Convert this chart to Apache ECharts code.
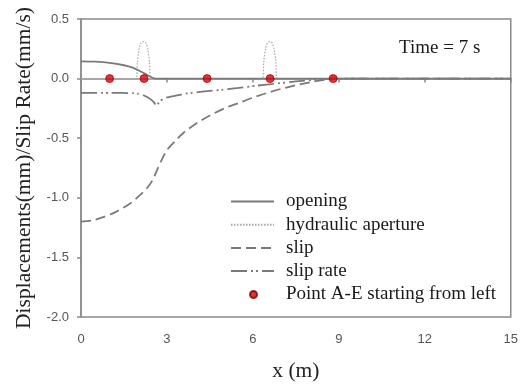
<!DOCTYPE html>
<html>
<head>
<meta charset="utf-8">
<script src="https://cdn.jsdelivr.net/npm/echarts@6/dist/echarts.min.js"></script>
<style>html,body{margin:0;padding:0;background:#fff}#c{width:521px;height:387px}</style>
</head>
<body>
<div id="c"></div>
<script>
// x ticks / y ticks
const xTicks = [0, 3, 6, 9, 12, 15];
const yTicks = [-2.0, -1.5, -1.0, -0.5, 0.0, 0.5];

// opening (solid)
const openingX = [0, 0.5, 1.0, 1.5, 1.8, 2.1, 2.3, 2.45, 2.6, 15];
const openingY = [0.145, 0.142, 0.132, 0.112, 0.092, 0.058, 0.032, 0.013, 0.0, 0.0];

// hydraulic aperture (dotted)
const apertureX = [0, 1.92, 1.97, 2.03, 2.1, 2.18, 2.26, 2.33, 2.39, 2.44, 6.33, 6.38, 6.44, 6.51, 6.59, 6.67, 6.74, 6.8, 6.85, 15];
const apertureY = [0, 0, 0.14, 0.25, 0.3, 0.31, 0.3, 0.25, 0.14, 0, 0, 0.14, 0.25, 0.3, 0.31, 0.3, 0.25, 0.14, 0, 0];

// slip (dashed)
const slipX = [0, 0.4, 0.8, 1.2, 1.7, 2.0, 2.3, 2.5, 2.65, 2.8, 3.0, 3.3, 3.6, 4.0, 4.5, 5.0, 5.5, 6.0, 6.5, 7.0, 7.5, 8.0, 8.5, 8.8, 15];
const slipY = [-1.2, -1.19, -1.16, -1.12, -1.05, -0.99, -0.92, -0.85, -0.77, -0.69, -0.6, -0.52, -0.45, -0.38, -0.31, -0.25, -0.205, -0.16, -0.12, -0.085, -0.055, -0.03, -0.01, 0, 0];

// slip rate (dash-dot)
const slipRateX = [0, 1.0, 1.8, 2.0, 2.2, 2.4, 2.55, 2.63, 2.72, 2.85, 3.0, 3.3, 3.7, 4.3, 4.9, 5.5, 6.1, 6.7, 7.5, 8.2, 8.8, 15];
const slipRateY = [-0.12, -0.12, -0.122, -0.128, -0.142, -0.168, -0.2, -0.23, -0.2, -0.172, -0.158, -0.143, -0.125, -0.108, -0.095, -0.078, -0.06, -0.045, -0.024, -0.01, 0, 0];

// points A-E
const pointX = [1.0, 2.2, 4.4, 6.6, 8.8];
const pointY = [0, 0, 0, 0, 0];

const zip = (xs, ys) => xs.map((x, i) => [x, ys[i]]);
const lineGray = '#7a7a7a';
const serif = '"Liberation Serif", "Times New Roman", serif';
const sans = '"Liberation Sans", Arial, sans-serif';
const noSym = {color: 'rgba(0,0,0,0)', borderColor: 'rgba(0,0,0,0)', borderWidth: 0};

const chart = echarts.init(document.getElementById('c'), null, {renderer: 'canvas'});
chart.setOption({
  animation: false,
  backgroundColor: '#fff',
  grid: {left: 81, right: 10, top: 19, bottom: 67, show: true, borderColor: '#8a8a8a', borderWidth: 1.5},
  xAxis: {
    type: 'value', min: xTicks[0], max: xTicks[xTicks.length - 1], interval: 3,
    name: 'x (m)', nameLocation: 'middle', nameGap: 43,
    nameTextStyle: {fontFamily: serif, fontSize: 21.5, color: '#222'},
    axisLine: {show: true, lineStyle: {color: '#8a8a8a', width: 1.5}},
    axisTick: {show: true, length: 4, lineStyle: {color: '#8a8a8a', width: 1.5}},
    axisLabel: {fontFamily: sans, fontSize: 13, color: '#555', margin: 16},
    splitLine: {show: false}
  },
  yAxis: {
    type: 'value', min: yTicks[0], max: yTicks[yTicks.length - 1], interval: 0.5,
    name: 'Displacements(mm)/Slip Rate(mm/s)', nameLocation: 'middle', nameGap: 41,
    nameTextStyle: {fontFamily: serif, fontSize: 21.5, color: '#222'},
    axisLine: {show: true, lineStyle: {color: '#8a8a8a', width: 1.5}},
    axisTick: {show: true, length: 4, lineStyle: {color: '#8a8a8a', width: 1.5}},
    axisLabel: {fontFamily: sans, fontSize: 13, color: '#555', margin: 12, formatter: v => v.toFixed(1)},
    splitLine: {show: false}
  },
  legend: [{
    orient: 'vertical', left: 230, top: 192, padding: 0, itemWidth: 43, itemHeight: 14, itemGap: 4.2,
    textStyle: {fontFamily: serif, fontSize: 19, color: '#1a1a1a', padding: [0, 0, 0, 7]},
    data: [
      {name: 'opening', itemStyle: noSym},
      {name: 'hydraulic aperture', itemStyle: noSym},
      {name: 'slip', itemStyle: noSym},
      {name: 'slip rate', itemStyle: noSym}
    ]
  }, {
    orient: 'vertical', left: 249, top: 285, padding: 0, itemWidth: 7, itemHeight: 7,
    textStyle: {fontFamily: serif, fontSize: 19, color: '#1a1a1a', padding: [0, 0, 0, 24]},
    data: [{name: 'Point A-E starting from left', icon: 'circle'}]
  }],
  graphic: [{
    type: 'text', left: 399, top: 39,
    style: {text: 'Time = 7 s', font: '19px ' + serif, fill: '#1a1a1a'}
  }],
  series: [
    {name: 'opening', type: 'line', data: zip(openingX, openingY), symbol: 'none', smooth: 0.3,
     lineStyle: {color: lineGray, width: 1.8, type: 'solid'}, itemStyle: {color: lineGray}, z: 3},
    {name: 'hydraulic aperture', type: 'line', data: zip(apertureX, apertureY), symbol: 'none', smooth: 0.3,
     lineStyle: {color: '#a8a8a8', width: 1.2, type: [1.5, 1.5]}, itemStyle: {color: '#a8a8a8'}, z: 2},
    {name: 'slip', type: 'line', data: zip(slipX, slipY), symbol: 'none', smooth: 0.3,
     lineStyle: {color: lineGray, width: 1.8, type: [10, 5]}, itemStyle: {color: lineGray}, z: 2},
    {name: 'slip rate', type: 'line', data: zip(slipRateX, slipRateY), symbol: 'none', smooth: 0.2,
     lineStyle: {color: lineGray, width: 1.8, type: [16, 4, 2, 3, 2, 4]}, itemStyle: {color: lineGray}, z: 2},
    {name: 'Point A-E starting from left', type: 'scatter', data: zip(pointX, pointY), symbol: 'circle', symbolSize: 8,
     itemStyle: {color: '#e00000', borderColor: '#7a0000', borderWidth: 0.8}, z: 5}
  ]
});
</script>
</body>
</html>
